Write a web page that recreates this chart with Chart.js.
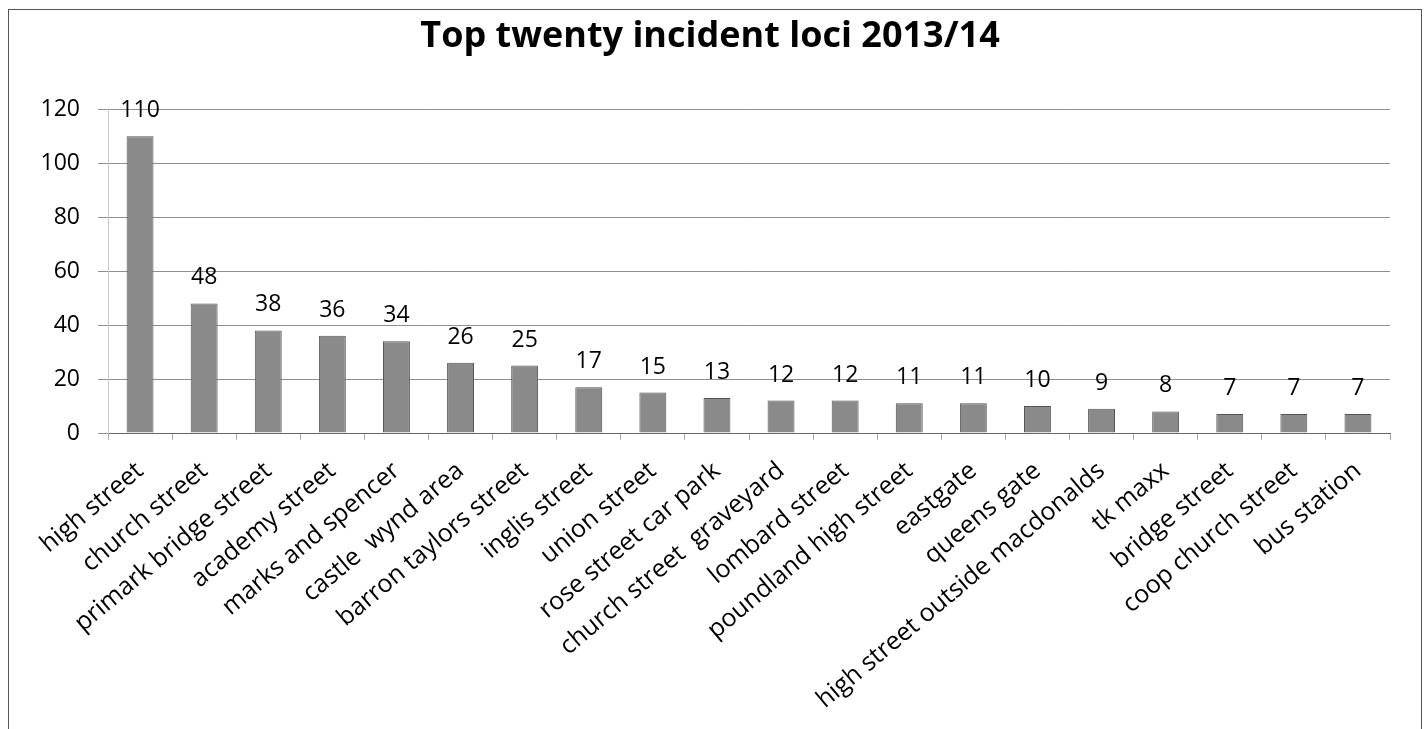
<!DOCTYPE html>
<html>
<head>
<meta charset="utf-8">
<script src="https://cdn.jsdelivr.net/npm/chart.js@4.4.0/dist/chart.umd.min.js"></script>
<style>
  html, body { margin: 0; padding: 0; background: #ffffff; }
  #wrap { position: relative; width: 1428px; height: 729px; overflow: hidden; background: #fff; }
  #frame { position: absolute; left: 8px; top: 9px; width: 1414px; height: 740px;
           border: 1.5px solid #555; border-bottom: none; box-sizing: border-box; pointer-events: none; }
  canvas { position: absolute; left: 0; top: 0; }
</style>
</head>
<body>
<div id="wrap">
  <canvas id="c" width="1428" height="729"></canvas>
  <div id="frame"></div>
</div>
<script>
const chartTitle = "Top twenty incident loci 2013/14";
const categories = [
  "high street", "church street", "primark bridge street", "academy street",
  "marks and spencer", "castle  wynd area", "barron taylors street", "inglis street",
  "union street", "rose street car park", "church street  graveyard", "lombard street",
  "poundland high street", "eastgate", "queens gate", "high street outside macdonalds",
  "tk maxx", "bridge street", "coop church street", "bus station"
];
const incidents = [110, 48, 38, 36, 34, 26, 25, 17, 15, 13, 12, 12, 11, 11, 10, 9, 8, 7, 7, 7];
const yTicks = [0, 20, 40, 60, 80, 100, 120];

const FONT = "'Open Sans', 'Liberation Sans', sans-serif";

const valueLabels = {
  id: 'valueLabels',
  afterDatasetsDraw(chart) {
    const ctx = chart.ctx;
    const meta = chart.getDatasetMeta(0);
    ctx.save();
    ctx.font = "23px " + FONT;
    ctx.fillStyle = "#000";
    ctx.textAlign = "center";
    ctx.textBaseline = "alphabetic";
    meta.data.forEach((bar, i) => {
      ctx.fillText(String(chart.data.datasets[0].data[i]), bar.x, bar.y - 19);
    });
    ctx.restore();
  }
};

new Chart(document.getElementById('c'), {
  type: 'bar',
  data: {
    labels: categories,
    datasets: [{
      data: incidents,
      backgroundColor: '#8a8a8a',
      borderColor: '#555555',
      borderWidth: 1,
      barPercentage: 0.42,
      categoryPercentage: 1.0
    }]
  },
  options: {
    responsive: false,
    animation: false,
    devicePixelRatio: 1,
    layout: { padding: { left: 30, right: 38, top: 0, bottom: 0 } },
    plugins: {
      legend: { display: false },
      tooltip: { enabled: false },
      title: {
        display: true,
        text: chartTitle,
        color: '#000',
        font: { family: FONT, size: 36, weight: 'bold' },
        padding: { top: 15, bottom: 51 }
      }
    },
    scales: {
      x: {
        offset: true,
        grid: { display: true, drawOnChartArea: false, drawTicks: true, tickLength: 7, color: '#aaa', offset: true },
        border: { display: true, color: '#666', width: 1 },
        ticks: {
          autoSkip: false, maxRotation: 40, minRotation: 40, padding: 16,
          color: '#000', font: { family: FONT, size: 25 }
        },
        afterFit(scale) { scale.height = 296; }
      },
      y: {
        min: 0, max: 120,
        afterBuildTicks(scale) { scale.ticks = yTicks.map(v => ({ value: v })); },
        grid: { color: '#8f8f8f', lineWidth: 1, tickLength: 10, drawTicks: true },
        border: { display: true, color: '#c8c8c8' },
        ticks: { padding: 18, color: '#000', font: { family: FONT, size: 23 } },
        afterFit(scale) { scale.width = 78; }
      }
    }
  },
  plugins: [valueLabels]
});
</script>
</body>
</html>
